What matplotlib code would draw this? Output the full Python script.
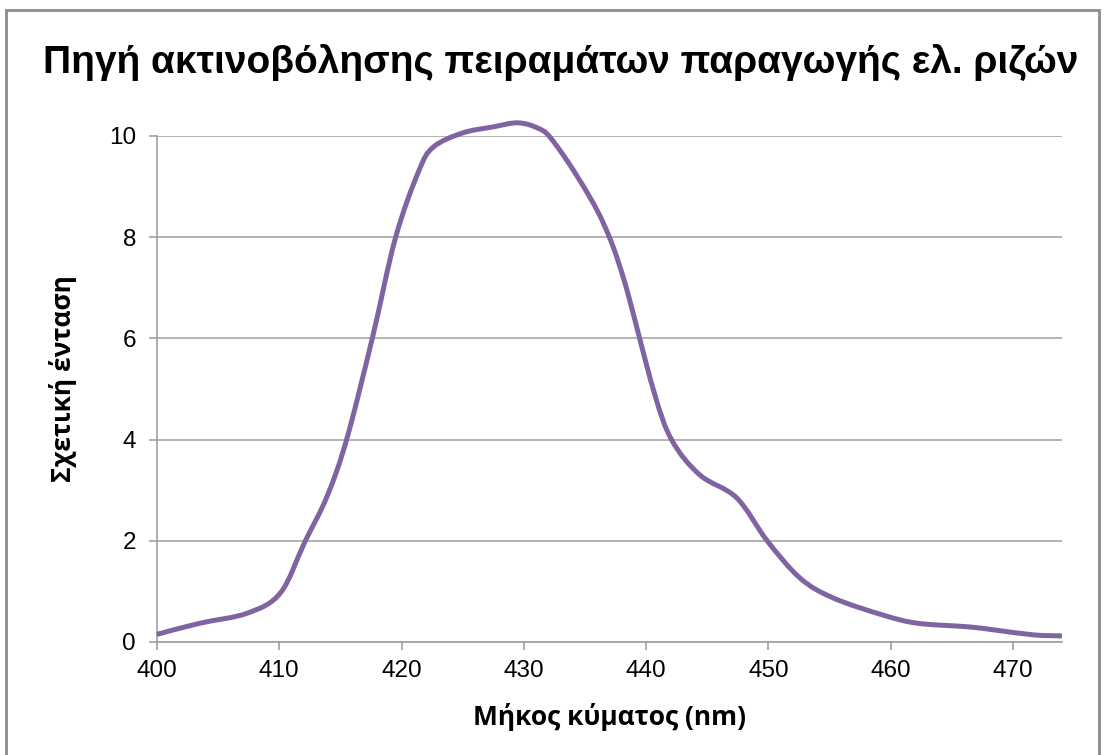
import matplotlib.pyplot as plt
from matplotlib.patches import Rectangle, PathPatch
from matplotlib.path import Path

# wavelength (nm) and relative intensity
wavelength = [400, 403.5, 407.4, 410.1, 412.1, 413.9, 415.5, 417.6, 419.5, 421.4,
              422.6, 425, 427.5, 429.5, 431.1, 432.2, 434.4, 436.5, 438.2, 440.6,
              442.1, 444.4, 447.4, 449.9, 452.6, 455.3, 459.4, 462.2, 466.3, 468.4,
              471.7, 474]
intensity = [0.15, 0.37, 0.57, 0.97, 1.98, 2.87, 3.99, 5.99, 7.98, 9.3,
             9.78, 10.06, 10.18, 10.26, 10.16, 9.96, 9.19, 8.28, 7.15, 4.98,
             3.99, 3.30, 2.85, 2.0, 1.26, 0.87, 0.53, 0.37, 0.30, 0.24,
             0.14, 0.12]

x_ticks = [400, 410, 420, 430, 440, 450, 460, 470]
y_ticks = [0, 2, 4, 6, 8, 10]


def smooth_path(xs, ys):
    # Catmull-Rom through the points, drawn as cubic Bezier (like a smoothed Excel line)
    pts = list(zip(xs, ys))
    verts = [pts[0]]
    codes = [Path.MOVETO]
    n = len(pts)
    for i in range(n - 1):
        p0 = pts[max(i - 1, 0)]
        p1 = pts[i]
        p2 = pts[i + 1]
        p3 = pts[min(i + 2, n - 1)]
        c1 = (p1[0] + (p2[0] - p0[0]) / 6, p1[1] + (p2[1] - p0[1]) / 6)
        c2 = (p2[0] - (p3[0] - p1[0]) / 6, p2[1] - (p3[1] - p1[1]) / 6)
        verts += [c1, c2, p2]
        codes += [Path.CURVE4] * 3
    return Path(verts, codes)


plt.rcParams['font.family'] = ['Liberation Sans', 'DejaVu Sans']

fig = plt.figure(figsize=(11.05, 7.55), dpi=100)
ax = fig.add_axes([0.142, 0.1497, 0.819, 0.6702])

ax.add_patch(PathPatch(smooth_path(wavelength, intensity), fill=False,
                       edgecolor='#8064A2', linewidth=3.6, clip_on=False,
                       zorder=3, capstyle='butt'))

ax.set_xlim(400, 474)
ax.set_ylim(0, 10)
ax.set_xticks(x_ticks)
ax.set_yticks(y_ticks)
ax.grid(axis='y', color='#a6a6a6', linewidth=1.2)
ax.set_axisbelow(True)

for side in ['top', 'right']:
    ax.spines[side].set_visible(False)
for side in ['left', 'bottom']:
    ax.spines[side].set_color('#a0a0a0')
    ax.spines[side].set_linewidth(1.2)

ax.tick_params(axis='both', colors='#a0a0a0', labelcolor='black',
               labelsize=17.5, length=6, width=1.2)
ax.tick_params(axis='x', pad=7)
ax.tick_params(axis='y', pad=9)

ax.set_xlabel('Μήκος κύματος (nm)', fontsize=19, fontweight='bold',
              family=['Open Sans', 'DejaVu Sans'])
ax.set_ylabel('Σχετική ένταση', fontsize=19, fontweight='bold',
              family=['Open Sans', 'DejaVu Sans'])
ax.xaxis.set_label_coords(0.5, -0.12)
ax.yaxis.set_label_coords(-0.088, 0.52)

fig.text(0.507, 0.917, 'Πηγή ακτινοβόλησης πειραμάτων παραγωγής ελ. ριζών',
         ha='center', va='center', fontsize=28, fontweight='heavy')

fig.patches.append(Rectangle((0.005, -0.01), 0.99, 0.997, transform=fig.transFigure,
                             fill=False, edgecolor='#8c8c8c', linewidth=2))

fig.savefig('out.png', dpi=100)
